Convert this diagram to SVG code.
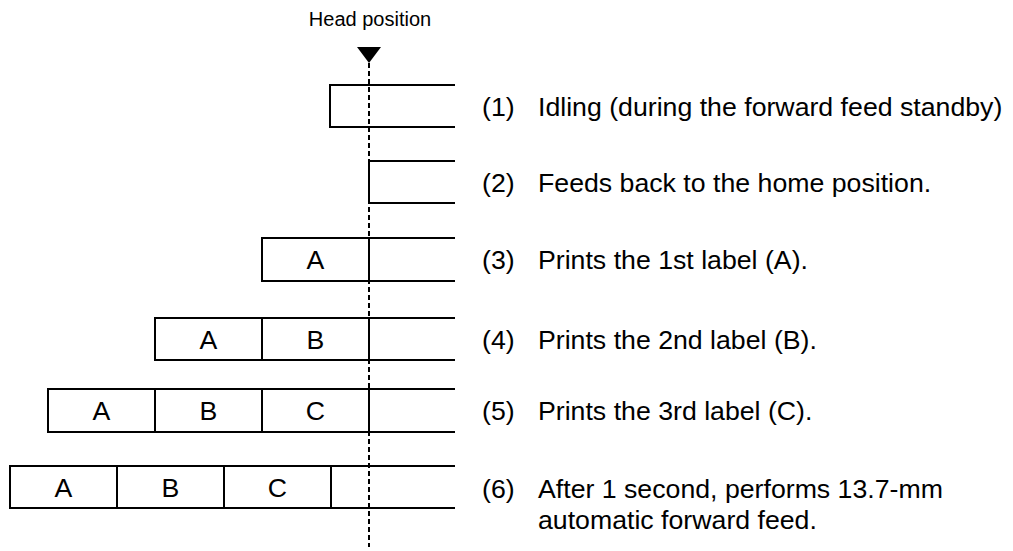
<svg xmlns="http://www.w3.org/2000/svg" width="1013" height="551" viewBox="0 0 1013 551">
<style>
.ln{stroke:#000;stroke-width:2;fill:none}
.t{font-family:"Liberation Sans",Arial,sans-serif;font-size:26.7px;fill:#000}
.c{text-anchor:middle}
.h{font-family:"Liberation Sans",Arial,sans-serif;font-size:20px;fill:#000;text-anchor:middle}
</style>
<rect width="1013" height="551" fill="#fff"/>
<g id="head">
<text class="h" x="370" y="26">Head position</text>
<polygon points="357,47 381,47 369,63" fill="#000"/>
</g>
<g id="row1">
<path class="ln" d="M455,85 H330 V127 H455"/>
<text class="t" x="482" y="116">(1)</text>
<text class="t" x="538" y="116">Idling (during the forward feed standby)</text>
</g>
<g id="row2">
<path class="ln" d="M455,161 H369 V203 H455"/>
<text class="t" x="482" y="192">(2)</text>
<text class="t" x="538" y="192">Feeds back to the home position.</text>
</g>
<g id="row3">
<path class="ln" d="M455,238 H262 V281 H455 M369,238 V281"/>
<text class="t c" x="315.5" y="269">A</text>
<text class="t" x="482" y="269">(3)</text>
<text class="t" x="538" y="269">Prints the 1st label (A).</text>
</g>
<g id="row4">
<path class="ln" d="M455,318 H155 V360 H455 M262,318 V360 M369,318 V360"/>
<text class="t c" x="208.5" y="349">A</text>
<text class="t c" x="315.5" y="349">B</text>
<text class="t" x="482" y="349">(4)</text>
<text class="t" x="538" y="349">Prints the 2nd label (B).</text>
</g>
<g id="row5">
<path class="ln" d="M455,389 H48 V432 H455 M155,389 V432 M262,389 V432 M369,389 V432"/>
<text class="t c" x="101.5" y="420">A</text>
<text class="t c" x="208.5" y="420">B</text>
<text class="t c" x="315.5" y="420">C</text>
<text class="t" x="482" y="420">(5)</text>
<text class="t" x="538" y="420">Prints the 3rd label (C).</text>
</g>
<g id="row6">
<path class="ln" d="M455,466 H10 V508 H455 M117,466 V508 M224,466 V508 M331,466 V508"/>
<text class="t c" x="63.5" y="497">A</text>
<text class="t c" x="170.5" y="497">B</text>
<text class="t c" x="277.5" y="497">C</text>
<text class="t" x="482" y="498">(6)</text>
<text class="t" x="538" y="498">After 1 second, performs 13.7-mm</text>
<text class="t" x="538" y="529">automatic forward feed.</text>
</g>
<g id="connectors">
<line x1="369" y1="63" x2="369" y2="547" stroke="#000" stroke-width="2" stroke-dasharray="5,3"/>
</g>
</svg>
